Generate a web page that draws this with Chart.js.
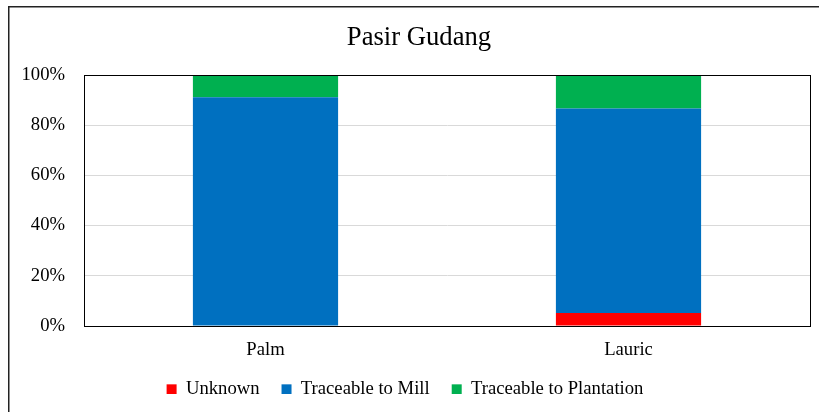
<!DOCTYPE html>
<html>
<head>
<meta charset="utf-8">
<script src="https://cdn.jsdelivr.net/npm/chart.js@4.4.0/dist/chart.umd.min.js"></script>
<style>
html, body { margin: 0; padding: 0; background: #fff; }
#wrap { position: relative; width: 819px; height: 412px; }
</style>
</head>
<body>
<div id="wrap"><canvas id="pasir"></canvas></div>
<script>
var titleText = "Pasir Gudang";
var categories = ["Palm", "Lauric"];
var unknown = [0, 5.2];
var mill = [91.1, 81.5];
var plantation = [8.9, 13.3];
var yTicks = [0, 20, 40, 60, 80, 100];

Chart.defaults.font.family = "'Liberation Serif', 'Times New Roman', serif";
Chart.defaults.font.size = 18.67;
Chart.defaults.color = "#000";

// frame round the whole chart + box round plot area + title
var frame = {
    id: "frame",
    afterDatasetsDraw: function(chart){
        var ctx = chart.ctx, a = chart.chartArea;
        ctx.save();
        ctx.strokeStyle = "#000";
        ctx.lineWidth = 1;
        ctx.strokeRect(Math.round(a.left) + 0.5, Math.round(a.top) + 0.5,
            Math.round(a.right - a.left), Math.round(a.bottom - a.top));
        ctx.restore();
    },
    afterDraw: function(chart){
        var ctx = chart.ctx;
        ctx.save();
        ctx.strokeStyle = "#222";
        ctx.lineWidth = 1.5;
        ctx.beginPath();
        ctx.moveTo(8.75, chart.height + 2);
        ctx.lineTo(8.75, 6.75);
        ctx.lineTo(chart.width + 2, 6.75);
        ctx.stroke();
        ctx.fillStyle = "#000";
        ctx.font = "26.67px 'Liberation Serif', 'Times New Roman', serif";
        ctx.textAlign = "center";
        ctx.textBaseline = "alphabetic";
        ctx.fillText(titleText, 419, 45);
        ctx.restore();
    }
};

var legendFit = {
    id: "legendFit",
    beforeInit: function(chart){
        var fit = chart.legend.fit;
        chart.legend.fit = function(){
            fit.call(this);
            this.height = 36;
        };
    }
};

var config = {
    type: "bar",
    data: {
        labels: categories,
        datasets: [
            { label: "Unknown", data: unknown, backgroundColor: "#FF0000" },
            { label: "Traceable to Mill", data: mill, backgroundColor: "#0070C0" },
            { label: "Traceable to Plantation", data: plantation, backgroundColor: "#00B050" }
        ]
    },
    options: {
        responsive: true,
        maintainAspectRatio: false,
        animation: false,
        barPercentage: 0.4,
        categoryPercentage: 1,
        layout: { padding: { top: 75, right: 9, bottom: 18, left: 0 } },
        scales: {
            x: {
                stacked: true,
                grid: { display: false, drawTicks: false },
                border: { color: "#000" },
                ticks: { padding: 13 },
                afterFit: function(s){ s.height = 32; }
            },
            y: {
                stacked: true,
                min: 0,
                max: 100,
                grid: { color: "#d9d9d9", drawTicks: false },
                border: { color: "#000" },
                afterBuildTicks: function(s){
                    s.ticks = yTicks.map(function(v){ return { value: v }; });
                },
                ticks: {
                    padding: 19,
                    callback: function(v){ return v + "%"; }
                },
                afterFit: function(s){ s.width = 84; }
            }
        },
        plugins: {
            title: { display: false },
            tooltip: { enabled: false },
            legend: {
                position: "bottom",
                labels: { boxWidth: 10, boxHeight: 10, padding: 22 }
            }
        }
    },
    plugins: [frame, legendFit]
};

window.onload = function(){
    window.pasirChart = new Chart(document.getElementById("pasir").getContext("2d"), config);
};
</script>
</body>
</html>
